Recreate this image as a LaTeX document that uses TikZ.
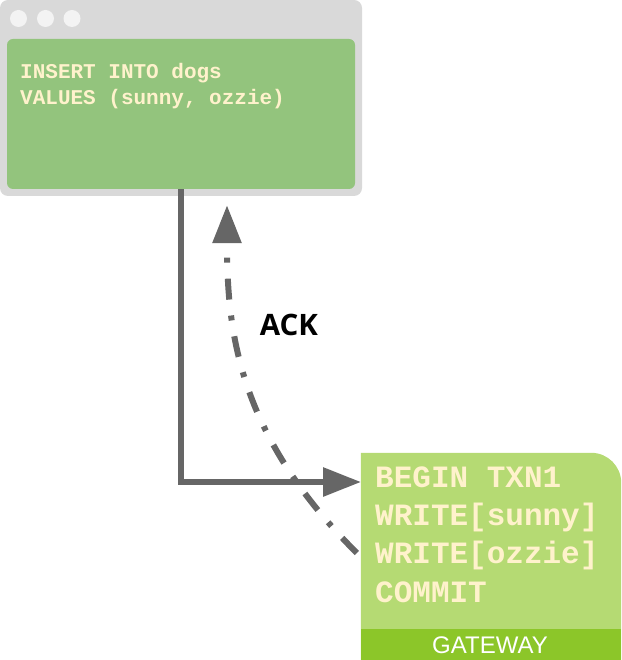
\documentclass[tikz,border=0pt]{standalone}
\usepackage{fontspec}
\setmainfont{Liberation Sans}
\newfontfamily\codefont{Liberation Mono}
\newfontfamily\ackfont{Open Sans}
\usetikzlibrary{arrows.meta, positioning}
\definecolor{framegray}{HTML}{D9D9D9}
\definecolor{dotgray}{HTML}{F3F3F3}
\definecolor{querygreen}{HTML}{93C47D}
\definecolor{gwgreen}{HTML}{B5DA73}
\definecolor{bandgreen}{HTML}{8CC629}
\definecolor{codecream}{HTML}{FFF2CC}
\definecolor{wiregray}{HTML}{666666}
\tikzset{
	window/.style={fill=framegray, rounded corners=8pt, minimum width=362pt, minimum height=196pt, inner sep=0pt},
	query/.style={fill=querygreen, rounded corners=6pt, minimum width=348pt, minimum height=150pt, inner sep=0pt},
	gwbody/.style={minimum width=260pt, minimum height=207pt, inner sep=0pt},
	sqltext/.style={font=\codefont\bfseries\fontsize{21}{26}\selectfont, text=codecream, inner sep=0pt, anchor=base west},
	txntext/.style={font=\codefont\bfseries\fontsize{31}{38}\selectfont, text=codecream, inner sep=0pt, anchor=base west},
	wire/.style={draw=wiregray, line width=6pt, -{Triangle[length=38pt, width=28pt]}},
	ackwire/.style={wire, dash pattern=on 21pt off 16pt on 5pt off 16pt}
}

\begin{document}
\begin{tikzpicture}[x=1pt, y=-1pt]
	\useasboundingbox (0,0) rectangle (621,660);

	% --- Client window ---
	\node[window] (win) at (181,98) {};
	\foreach \x in {18.5,45.5,72} \fill[dotgray] (\x,18.5) circle[radius=8.5pt];
	\node[query] (query) at (181,114) {};
	\node[sqltext] (sql1) at (20,79) {INSERT INTO dogs};
	\node[sqltext] (sql2) at (20,105) {VALUES (sunny, ozzie)};

	% --- Gateway ---
	\node[gwbody] (gw) at (491,556.5) {};
	\fill[gwgreen] (gw.south west) -- (gw.north west) [rounded corners=30pt] -- (gw.north east) [sharp corners] -- (gw.south east) -- cycle;
	\fill[bandgreen] (gw.south west) rectangle ([yshift=31.5pt]gw.south east);
	\node[font=\fontsize{24}{26}\selectfont, text=white] (gwlabel) at (490,645.5) {GATEWAY};
	\foreach \line [count=\i] in {BEGIN TXN1, {WRITE[sunny]}, {WRITE[ozzie]}, COMMIT}
		\node[txntext] (txn\i) at (375, 449+38.3*\i) {\line};

	% --- Request and ack ---
	\coordinate (gwin) at (361,482);
	\coordinate (acksrc) at ([shift={(-4,-3.5)}]gw.west);
	\coordinate (ackdst) at ([shift={(46,9)}]win.south);
	\draw[wire] (query.south) |- (gwin);
	\draw[ackwire] (acksrc) .. controls (237,433) and (227,330) .. (ackdst);
	\node[font=\ackfont\bfseries\fontsize{29.5}{32}\selectfont] (ack) at (289,325) {ACK};
\end{tikzpicture}
\end{document}
